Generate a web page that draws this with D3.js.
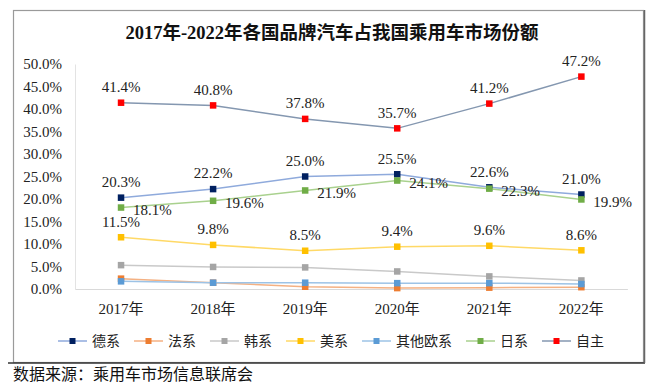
<!DOCTYPE html>
<html>
<head>
<meta charset="utf-8">
<script src="https://cdn.jsdelivr.net/npm/d3@7"></script>
<style>
body{margin:0;background:#fff;}
svg text{font-family:"Liberation Serif","Noto Sans CJK SC",serif;}
</style>
</head>
<body>
<svg width="660" height="384"></svg>
<script>
const YEARS = ['2017年','2018年','2019年','2020年','2021年','2022年']
const NAMES = ['德系','法系','韩系','美系','其他欧系','日系','自主']
const DE = [20.3,22.2,25.0,25.5,22.6,21.0]
const FA = [2.3,1.4,0.5,0.2,0.3,0.4]
const HAN = [5.3,4.9,4.8,3.9,2.8,1.9]
const MEI = [11.5,9.8,8.5,9.4,9.6,8.6]
const OU = [1.7,1.4,1.4,1.3,1.3,1.1]
const RI = [18.1,19.6,21.9,24.1,22.3,19.9]
const ZIZHU = [41.4,40.8,37.8,35.7,41.2,47.2]
const Y_TICKS = [0,5,10,15,20,25,30,35,40,45,50]

// marker colour, line colour, label position
const series = [
  {name:NAMES[0],values:DE,mark:'#002060',line:'#8FAADC',label:'top'},
  {name:NAMES[1],values:FA,mark:'#ED7D31',line:'#F4B183',label:null},
  {name:NAMES[2],values:HAN,mark:'#A5A5A5',line:'#C9C9C9',label:null},
  {name:NAMES[3],values:MEI,mark:'#FFC000',line:'#FFD966',label:'top'},
  {name:NAMES[4],values:OU,mark:'#5B9BD5',line:'#9DC3E6',label:null},
  {name:NAMES[5],values:RI,mark:'#70AD47',line:'#A9D18E',label:'right'},
  {name:NAMES[6],values:ZIZHU,mark:'#FF0000',line:'#8497B0',label:'top'}
]

const svg = d3.select('svg')

// frame
svg.append('rect').attr('x',13.5).attr('y',10.5).attr('width',630).attr('height',352)
  .attr('fill','none').attr('stroke','#9a9a9a').attr('stroke-width',1.2)
svg.append('line').attr('x1',8).attr('x2',645).attr('y1',363).attr('y2',363)
  .attr('stroke','#333').attr('stroke-width',1.5)
svg.append('line').attr('x1',644.5).attr('x2',644.5).attr('y1',10).attr('y2',363)
  .attr('stroke','#666').attr('stroke-width',1.5)

svg.append('text').attr('x',332).attr('y',33).attr('dy','0.35em')
  .attr('text-anchor','middle').attr('font-size',18.5).attr('font-weight','bold')
  .attr('fill','#111').text('2017年-2022年各国品牌汽车占我国乘用车市场份额')

const xScale = d3.scaleBand().domain(YEARS).range([75,627.4])
const yScale = d3.scaleLinear().domain([0,50]).range([289,64])
const cx = (i) => xScale(YEARS[i]) + xScale.bandwidth()/2

// y axis
const yAxis = svg.append('g').attr('transform','translate(75,0)')
  .call(d3.axisLeft(yScale).tickValues(Y_TICKS).tickFormat(d=>d.toFixed(1)+'%').tickSize(0).tickPadding(13))
yAxis.select('.domain').attr('stroke','#e3e3e3')
yAxis.selectAll('text').attr('font-size',15).attr('fill','#222')
  .attr('font-family','"Liberation Serif",serif')

// x axis
const xAxis = svg.append('g').attr('transform','translate(0,289)')
  .call(d3.axisBottom(xScale).tickSize(0).tickPadding(14))
xAxis.select('.domain').attr('stroke','#d9d9d9')
xAxis.selectAll('text').attr('font-size',15).attr('fill','#222')

const line = d3.line().x((d,i)=>cx(i)).y(d=>yScale(d))

series.forEach(s=>{
  const g = svg.append('g')
  g.append('path').datum(s.values).attr('d',line)
    .attr('fill','none').attr('stroke',s.line).attr('stroke-width',1.5)
  g.selectAll('rect').data(s.values).enter().append('rect')
    .attr('x',(d,i)=>cx(i)-3.25).attr('y',d=>yScale(d)-3.25)
    .attr('width',6.5).attr('height',6.5).attr('fill',s.mark)
})

// data labels on top
series.filter(s=>s.label).forEach(s=>{
  svg.append('g').selectAll('text').data(s.values).enter().append('text')
    .attr('x',(d,i)=> s.label=='top' ? cx(i) : cx(i)+12)
    .attr('y',d=> s.label=='top' ? yScale(d)-16 : yScale(d)+2)
    .attr('dy','0.35em')
    .attr('text-anchor', s.label=='top' ? 'middle' : 'start')
    .attr('font-size',15).attr('fill','#222')
    .text(d=>d.toFixed(1)+'%')
})

// legend
const legend = svg.append('g').attr('transform','translate(0,341)')
let lx = 58
series.forEach(s=>{
  const item = legend.append('g').attr('transform',`translate(${lx},0)`)
  item.append('line').attr('x1',0).attr('x2',29).attr('y1',0).attr('y2',0)
    .attr('stroke',s.line).attr('stroke-width',1.5)
  item.append('rect').attr('x',11.5).attr('y',-3).attr('width',6).attr('height',6).attr('fill',s.mark)
  item.append('text').attr('x',34).attr('dy','0.35em').attr('font-size',14)
    .attr('fill','#222').text(s.name)
  lx += 29 + 5 + s.name.length*14 + 14
})

svg.append('text').attr('x',13).attr('y',374).attr('dy','0.35em')
  .attr('font-size',16).attr('fill','#111').text('数据来源：乘用车市场信息联席会')
</script>
</body>
</html>
